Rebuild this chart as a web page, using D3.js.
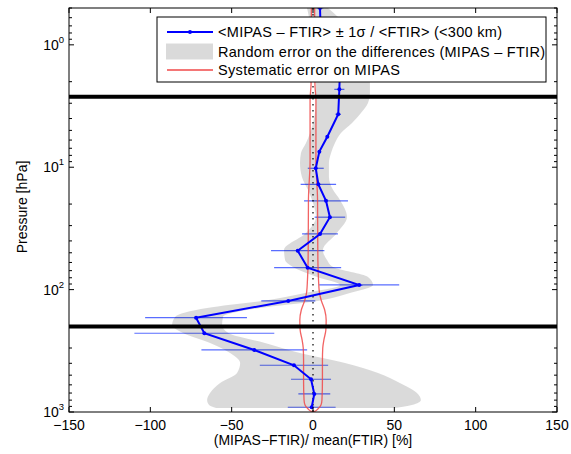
<!DOCTYPE html>
<html><head><meta charset="utf-8">
<script src="https://cdn.jsdelivr.net/npm/d3@7"></script>
<style>
body{margin:0;background:#fff}
text{font-family:"Liberation Sans",Arial,Helvetica,sans-serif;fill:#000}
</style>
</head><body>
<svg id="c" width="571" height="454"></svg>
<script>
// ---- data ----
// mean relative difference profile (<MIPAS - FTIR> / <FTIR>), %
const levels   = [0.5, 0.67, 0.92, 1.25, 1.7, 2.31, 3.69, 5.63, 7.46, 10.2, 13.8, 18.8, 25.6, 35.1, 48.1, 66.2, 91.6, 123.8, 169.5, 227.3, 311.3, 415.1, 540.2, 712.2, 914.9];
const meanDiff = [4.3, 4.6, 9, 14, 16.5, 16.2, 15.5, 8.8, 3.9, 1.7, 3.3, 8.0, 10.4, 4.3, -9.4, -3.3, 28.4, -15.2, -71.9, -66.8, -36.1, -11.7, -1.2, 0.8, -0.8];
const sigma    = [2, 2, 2, 2, 2, 3.1, 1.7, 0.8, 0.8, 4.9, 10.9, 13.5, 9.4, 11, 16.4, 20.6, 24.6, 16.6, 31.3, 43, 32.5, 21, 12.3, 9.8, 14.7];
// random error envelope on the differences, %
const randLevels = [0.5, 0.592, 1.10, 2.05, 2.47, 2.99, 3.60, 4.35, 5.25, 6.34, 7.65, 9.23, 12.0, 15.3, 18.5, 25.5, 34.4, 47.4, 57.3, 65.3, 78.8, 91.6, 106.5, 123.8, 141.3, 167.3, 194.5, 226.1, 272.9, 329.3, 397.5, 479.8, 579.0, 698.9, 797.2, 876.0, 926.9];
const randLow    = [-3.7, -2.5, -0.6, 1.8, 1.8, 1.8, 1.2, 0, -1.8, -4.3, -7.4, -8, -6.8, -3.1, -0.6, 1.8, -4.3, -17.8, -17.2, -12.3, 2.5, 16.6, -4.9, -31.3, -65.1, -84.8, -86.6, -79.9, -63.3, -51, -44.8, -46.7, -57.1, -63.3, -65.1, -63.9, -59.6];
const randHigh   = [9.2, 15.4, 28.9, 35, 35, 33.8, 29.5, 24, 17.2, 13.5, 11.1, 9.8, 9.8, 12.3, 16.6, 20.9, 14.7, 6.1, 8.6, 12.3, 33.8, 36.9, 22.7, 2.5, -32.6, -55.3, -55.9, -52, -29.5, -8, 19.7, 40, 53.4, 63.9, 66.3, 60.8, 50.4];
// systematic error on MIPAS (half width), %
const sysLevels = [0.5, 2.1, 2.82, 8.73, 18.5, 57.3, 83.4, 105, 121.5, 146.7, 177.0, 213.6, 257.9, 300, 375.6, 547.3, 797, 876, 944.3, 990, 1000];
const sysErr    = [1.0, 1.2, 1.8, 1.8, 2.8, 3.0, 3.4, 3.9, 5.0, 7.2, 8.1, 7.9, 6.7, 6.0, 5.8, 5.8, 5.5, 4.9, 3.0, 1.0, 0];
// thick reference levels, hPa
const markLevels = [2.65, 200];
// axes
const xTicks = [-150, -100, -50, 0, 50, 100, 150];
const yTickExps = [0, 1, 2, 3];
const legendLabels = ["<MIPAS \u2013 FTIR> \u00b1 1\u03c3 / <FTIR> (<300 km)",
                      "Random error on the differences (MIPAS \u2013 FTIR)",
                      "Systematic error on MIPAS"];
const legendWidths = [284, 327, 182];

// ---- drawing ----
const svg = d3.select("#c");
const L = 69, R = 557, T = 8, B = 412;
const x = d3.scaleLinear().domain([-150, 150]).range([L, R]);
const y = d3.scaleLog().domain([0.5, 1000]).range([T, B]);

svg.append("defs").append("clipPath").attr("id", "clip")
  .append("rect").attr("x", L).attr("y", T).attr("width", R - L).attr("height", B - T);
const g = svg.append("g").attr("clip-path", "url(#clip)");

// error bars (drawn under the translucent random-error band)
const prof = levels.map((p, i) => ({p, m: meanDiff[i], s: sigma[i]}));
g.selectAll("line.eb").data(prof).enter().append("line")
  .attr("x1", d => x(d.m - d.s)).attr("x2", d => x(d.m + d.s))
  .attr("y1", d => y(d.p)).attr("y2", d => y(d.p))
  .attr("stroke", "#3048ff").attr("stroke-opacity", 0.8).attr("stroke-width", 1.2);

// random error band
const band = randLevels.map((p, i) => ({p, lo: randLow[i], hi: randHigh[i]}));
g.append("path").datum(band)
  .attr("fill", "#000").attr("fill-opacity", 0.145)
  .attr("d", d3.area().y(d => y(d.p)).x0(d => x(d.lo)).x1(d => x(d.hi)).curve(d3.curveMonotoneY));

// systematic error curves
const sys = sysLevels.map((p, i) => ({p, e: sysErr[i]}));
[1, -1].forEach(s => {
  g.append("path").datum(sys)
    .attr("fill", "none").attr("stroke", "#f04848").attr("stroke-width", 1.3).attr("stroke-opacity", 0.85)
    .attr("d", d3.line().y(d => y(d.p)).x(d => x(s * d.e)).curve(d3.curveMonotoneY));
});

// zero line
g.append("line").attr("x1", x(0)).attr("x2", x(0)).attr("y1", T).attr("y2", B)
  .attr("stroke", "#000").attr("stroke-width", 1.2).attr("stroke-dasharray", "1.5,4.5");

// mean profile
g.append("path").datum(prof)
  .attr("fill", "none").attr("stroke", "#0000ff").attr("stroke-width", 2)
  .attr("d", d3.line().y(d => y(d.p)).x(d => x(d.m)));
g.selectAll("circle.mk").data(prof).enter().append("circle")
  .attr("cx", d => x(d.m)).attr("cy", d => y(d.p)).attr("r", 2).attr("fill", "#0000ff");

// thick reference lines
svg.selectAll("line.ml").data(markLevels).enter().append("line")
  .attr("x1", L).attr("x2", R).attr("y1", d => y(d)).attr("y2", d => y(d))
  .attr("stroke", "#000").attr("stroke-width", 4);

// box
svg.append("rect").attr("x", L).attr("y", T).attr("width", R - L).attr("height", B - T)
  .attr("fill", "none").attr("stroke", "#000").attr("stroke-width", 1);

// x ticks (inward, top and bottom)
const ax = svg.append("g");
xTicks.forEach(v => {
  ax.append("line").attr("x1", x(v)).attr("x2", x(v)).attr("y1", B).attr("y2", B - 5).attr("stroke", "#000");
  ax.append("line").attr("x1", x(v)).attr("x2", x(v)).attr("y1", T).attr("y2", T + 5).attr("stroke", "#000");
  ax.append("text").attr("x", x(v)).attr("y", 430).attr("text-anchor", "middle")
    .attr("font-size", 14).text(d3.format("d")(v).replace("-", "\u2212"));
});

// y ticks (log, with minor)
const minor = [];
for (let e = -1; e <= 2; e++) for (let k = 2; k <= 9; k++) {
  const v = k * Math.pow(10, e);
  if (v >= 0.5 && v <= 1000) minor.push(v);
}
minor.forEach(v => {
  ax.append("line").attr("x1", L).attr("x2", L + 3).attr("y1", y(v)).attr("y2", y(v)).attr("stroke", "#000");
  ax.append("line").attr("x1", R).attr("x2", R - 3).attr("y1", y(v)).attr("y2", y(v)).attr("stroke", "#000");
});
yTickExps.forEach(e => {
  const v = Math.pow(10, e);
  ax.append("line").attr("x1", L).attr("x2", L + 5).attr("y1", y(v)).attr("y2", y(v)).attr("stroke", "#000");
  ax.append("line").attr("x1", R).attr("x2", R - 5).attr("y1", y(v)).attr("y2", y(v)).attr("stroke", "#000");
  const t = ax.append("text").attr("x", 64).attr("y", y(v) + 5).attr("text-anchor", "end").attr("font-size", 14);
  t.append("tspan").text("10");
  t.append("tspan").attr("dy", -7).attr("font-size", 9.5).text(e);
});

// axis titles
svg.append("text").attr("x", 313).attr("y", 445).attr("text-anchor", "middle").attr("font-size", 14)
  .text("(MIPAS\u2212FTIR)/ mean(FTIR) [%]");
svg.append("text").attr("transform", "translate(27,207) rotate(-90)").attr("text-anchor", "middle")
  .attr("font-size", 14).text("Pressure [hPa]");

// legend
const lg = svg.append("g");
lg.append("rect").attr("x", 157).attr("y", 17).attr("width", 389).attr("height", 65)
  .attr("fill", "#fff").attr("stroke", "#000").attr("stroke-width", 1);
const rowY = [32, 51.5, 70];
lg.append("line").attr("x1", 167).attr("x2", 213).attr("y1", rowY[0]).attr("y2", rowY[0])
  .attr("stroke", "#0000ff").attr("stroke-width", 2);
lg.append("circle").attr("cx", 190).attr("cy", rowY[0]).attr("r", 2).attr("fill", "#0000ff");
lg.append("rect").attr("x", 166).attr("y", rowY[1] - 8).attr("width", 47).attr("height", 16)
  .attr("fill", "#000").attr("fill-opacity", 0.145);
lg.append("line").attr("x1", 167).attr("x2", 213).attr("y1", rowY[2]).attr("y2", rowY[2])
  .attr("stroke", "#f04848").attr("stroke-width", 1.3);
legendLabels.forEach((s, i) => {
  lg.append("text").attr("x", 218).attr("y", rowY[i] + 5).attr("font-size", 14.5)
    .attr("textLength", legendWidths[i]).attr("lengthAdjust", "spacing").text(s);
});
</script>
</body></html>
